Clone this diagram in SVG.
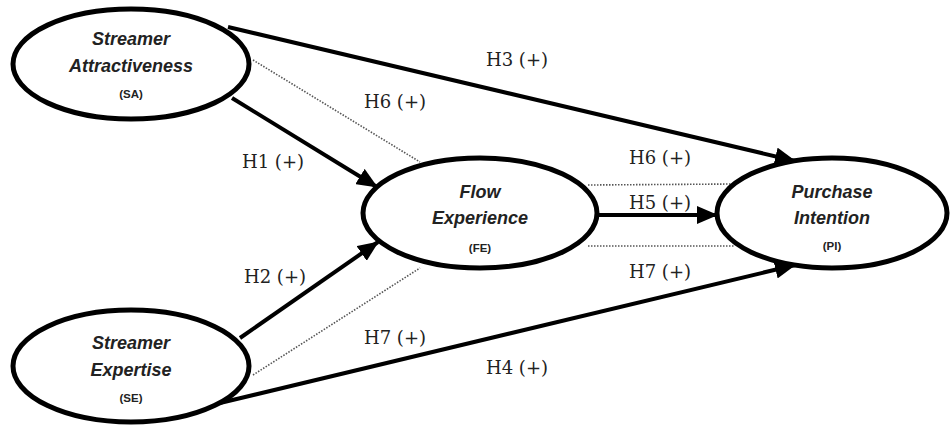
<svg xmlns="http://www.w3.org/2000/svg" width="950" height="425" viewBox="0 0 950 425">
<defs>
<marker id="arr" markerUnits="userSpaceOnUse" markerWidth="22" markerHeight="18" refX="20" refY="9" orient="auto">
<path d="M0,0 L21,9 L0,18 z" fill="#000"/>
</marker>
<style>
.node ellipse{fill:#fff;stroke:#000;stroke-width:5}
.t{font-family:"Liberation Sans",Arial,sans-serif;font-style:italic;font-weight:bold;font-size:18px;fill:#222;text-anchor:middle}
.ab{font-family:"Liberation Sans",Arial,sans-serif;font-weight:bold;font-size:11.5px;fill:#222;text-anchor:middle}
.solid{stroke:#000;stroke-width:4;fill:none;marker-end:url(#arr)}
.dot{stroke:#555;stroke-width:1.6;stroke-dasharray:1.5 1.5;fill:none}
.lbl{font-family:"DejaVu Serif","Liberation Serif",serif;font-size:18px;fill:#222;text-anchor:middle}
</style>
</defs>
<rect width="950" height="425" fill="#fff"/>
<g id="connectors">
<line class="solid" x1="228" y1="27" x2="795" y2="161"/>
<line class="solid" x1="232" y1="98" x2="377" y2="187"/>
<line class="solid" x1="240" y1="338" x2="378" y2="242"/>
<line class="solid" x1="220" y1="403" x2="795" y2="265"/>
<line class="solid" x1="597" y1="215" x2="717" y2="215"/>
<line class="dot" x1="253" y1="60" x2="420" y2="162"/>
<line class="dot" x1="253" y1="375" x2="420" y2="268"/>
<line class="dot" x1="588" y1="185" x2="735" y2="184"/>
<line class="dot" x1="588" y1="246" x2="735" y2="246"/>
<text class="lbl" x="517" y="66">H3 (+)</text>
<text class="lbl" x="395" y="108">H6 (+)</text>
<text class="lbl" x="273" y="168">H1 (+)</text>
<text class="lbl" x="660" y="164">H6 (+)</text>
<text class="lbl" x="660" y="209">H5 (+)</text>
<text class="lbl" x="660" y="278">H7 (+)</text>
<text class="lbl" x="275" y="283">H2 (+)</text>
<text class="lbl" x="395" y="344">H7 (+)</text>
<text class="lbl" x="517" y="374">H4 (+)</text>
</g>
<g id="SA" class="node">
<ellipse cx="131" cy="64" rx="118" ry="55"/>
<text class="t" x="131" y="45">Streamer</text>
<text class="t" x="131" y="72">Attractiveness</text>
<text class="ab" x="131" y="98">(SA)</text>
</g>
<g id="FE" class="node">
<ellipse cx="480" cy="213" rx="117" ry="55"/>
<text class="t" x="480" y="198">Flow</text>
<text class="t" x="480" y="224">Experience</text>
<text class="ab" x="480" y="252">(FE)</text>
</g>
<g id="PI" class="node">
<ellipse cx="832" cy="213" rx="115" ry="55"/>
<text class="t" x="832" y="198">Purchase</text>
<text class="t" x="832" y="224">Intention</text>
<text class="ab" x="832" y="250">(PI)</text>
</g>
<g id="SE" class="node">
<ellipse cx="131" cy="366" rx="118" ry="56"/>
<text class="t" x="131" y="349">Streamer</text>
<text class="t" x="131" y="376">Expertise</text>
<text class="ab" x="131" y="402">(SE)</text>
</g>
</svg>
